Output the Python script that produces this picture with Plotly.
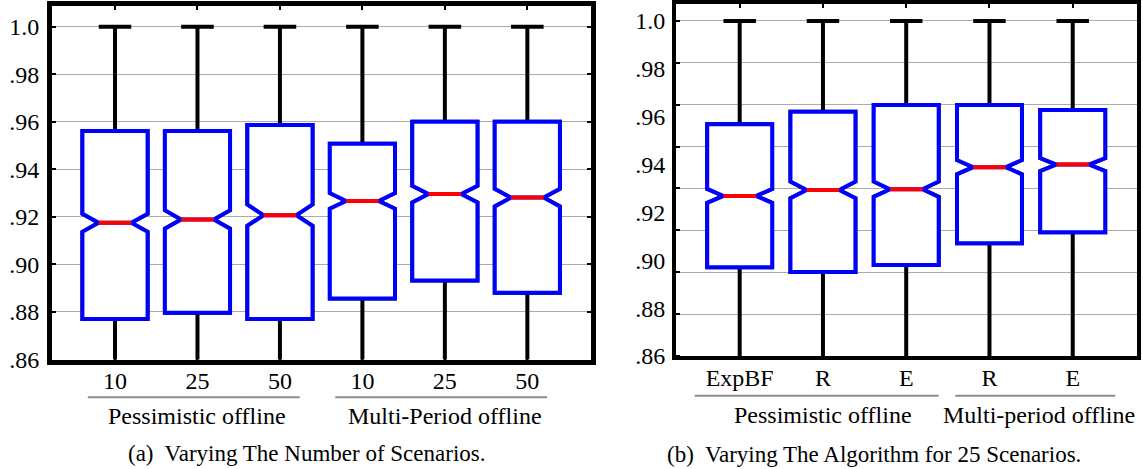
import plotly.graph_objects as go

W, H = 1143, 469
FONT = "Liberation Serif, Times New Roman, serif"

# ---------------- data: panel (a) ----------------
a_ticks = ["10", "25", "50", "10", "25", "50"]
a_group = [0, 0, 0, 1, 1, 1]
a_group_names = ["Pessimistic offline", "Multi-Period offline"]
a_lower = [0.80, 0.80, 0.80, 0.80, 0.80, 0.80]
a_q1 = [0.8770, 0.8797, 0.8770, 0.8857, 0.8932, 0.8881]
a_median = [0.9175, 0.9189, 0.9207, 0.9267, 0.9296, 0.9281]
a_q3 = [0.9561, 0.9561, 0.9586, 0.9508, 0.9600, 0.9600]
a_upper = [1.0, 1.0, 1.0, 1.0, 1.0, 1.0]
a_notch = [0.0038, 0.0039, 0.0045, 0.0033, 0.0035, 0.0037]
a_caption = "(a)  Varying The Number of Scenarios."

# ---------------- data: panel (b) ----------------
b_ticks = ["ExpBF", "R", "E", "R", "E"]
b_group = [0, 0, 0, 1, 1]
b_group_names = ["Pessimistic offline", "Multi-period offline"]
b_lower = [0.80, 0.80, 0.80, 0.80, 0.80]
b_q1 = [0.8971, 0.8951, 0.8980, 0.9071, 0.9117]
b_median = [0.9269, 0.9294, 0.9297, 0.9389, 0.9400]
b_q3 = [0.9568, 0.9621, 0.9649, 0.9649, 0.9628]
b_upper = [1.0, 1.0, 1.0, 1.0, 1.0]
b_notch = [0.0029, 0.0035, 0.0032, 0.0030, 0.0027]
b_caption = "(b)  Varying The Algorithm for 25 Scenarios."

y_tickvals = [0.86, 0.88, 0.90, 0.92, 0.94, 0.96, 0.98, 1.0]
y_ticktext = [".86", ".88", ".90", ".92", ".94", ".96", ".98", "1.0"]
b_minor_grid = [0.86 + 0.0175 * k for k in range(9)]


def px_x(p):
    return p / W


def px_y(p):
    return 1 - p / H


fig = go.Figure()


def add_panel(xa, ya, q1, med, q3, lo, up, notch, bw):
    common = dict(xaxis=xa, yaxis=ya, showlegend=False, boxpoints=False,
                  hoverinfo="skip")
    for i in range(len(q1)):
        # black whiskers
        fig.add_trace(go.Box(x=[i], q1=[q1[i]], median=[med[i]], q3=[q3[i]],
                             lowerfence=[lo[i]], upperfence=[up[i]],
                             notched=True, notchspan=[notch[i]], notchwidth=0.25,
                             whiskerwidth=0.5, width=bw, fillcolor="white",
                             line=dict(color="black", width=4), **common))
    for i in range(len(q1)):
        # blue box
        fig.add_trace(go.Box(x=[i], q1=[q1[i]], median=[med[i]], q3=[q3[i]],
                             lowerfence=[q1[i]], upperfence=[q3[i]],
                             notched=True, notchspan=[notch[i]], notchwidth=0.25,
                             whiskerwidth=0, width=bw, fillcolor="white",
                             line=dict(color="#0000ff", width=4), **common))
    for i in range(len(q1)):
        # red median
        fig.add_trace(go.Box(x=[i], q1=[med[i]], median=[med[i]], q3=[med[i]],
                             lowerfence=[med[i]], upperfence=[med[i]],
                             whiskerwidth=0, width=bw * 0.5, fillcolor="rgba(0,0,0,0)",
                             line=dict(color="#ff0000", width=4), **common))


add_panel("x", "y", a_q1, a_median, a_q3, a_lower, a_upper, a_notch, 0.79)
add_panel("x2", "y2", b_q1, b_median, b_q3, b_lower, b_upper, b_notch, 0.78)

tickfont = dict(family=FONT, size=24, color="black")

fig.update_layout(
    width=W, height=H, margin=dict(l=0, r=0, t=0, b=0, pad=0, autoexpand=False),
    paper_bgcolor="white", plot_bgcolor="white", boxmode="overlay",
    font=dict(family=FONT, color="black"),
    xaxis=dict(domain=[px_x(52), px_x(591)], range=[-0.764, 5.772],
               tickvals=list(range(len(a_ticks))), ticktext=a_ticks,
               showgrid=False, zeroline=False, showline=True, linewidth=5,
               linecolor="black", mirror="ticks", ticks="inside", ticklen=4,
               tickwidth=1.5, tickcolor="black", tickfont=tickfont,
               ticklabelstandoff=-4, automargin=False),
    yaxis=dict(domain=[px_y(359.5), px_y(6)], range=[0.86, 1.0087],
               tickvals=y_tickvals, ticktext=y_ticktext,
               showgrid=True, gridcolor="#ababab", gridwidth=1, zeroline=False,
               showline=True, linewidth=5, linecolor="black", mirror="ticks",
               ticks="inside", ticklen=4, tickwidth=1.5, tickcolor="black",
               tickfont=tickfont, ticklabelstandoff=3, automargin=False),
    xaxis2=dict(domain=[px_x(676), px_x(1137)], range=[-0.765, 4.772],
                anchor="y2",
                tickvals=list(range(len(b_ticks))), ticktext=b_ticks,
                showgrid=False, zeroline=False, showline=True, linewidth=4,
                linecolor="black", mirror="ticks", ticks="inside", ticklen=4,
                tickwidth=1.5, tickcolor="black", tickfont=tickfont,
                ticklabelstandoff=-3, automargin=False),
    yaxis2=dict(domain=[px_y(356), px_y(3.5)], range=[0.86, 1.0073],
                anchor="x2",
                tickvals=y_tickvals, ticktext=y_ticktext, ticks="",
                showgrid=False, zeroline=False,
                showline=True, linewidth=4, linecolor="black", mirror=True,
                minor=dict(tickvals=b_minor_grid, showgrid=True, gridcolor="#ababab",
                           gridwidth=1, ticks="inside", ticklen=4, tickwidth=1.5,
                           tickcolor="black"),
                tickfont=tickfont, ticklabelstandoff=2, automargin=False),
)

labfont = dict(family=FONT, size=24, color="black")
capfont = dict(family=FONT, size=23, color="black")
line_col = "#8c8c8c"

# group labels and underlines, panel (a)
for g, name in enumerate(a_group_names):
    idx = [i for i, gg in enumerate(a_group) if gg == g]
    fig.add_shape(type="line", xref="x", yref="paper",
                  x0=idx[0] - 0.33, x1=idx[-1] + 0.24,
                  y0=px_y(397.3), y1=px_y(397.3),
                  line=dict(color=line_col, width=2))
    fig.add_annotation(text=name, xref="x", yref="paper",
                       x=(idx[0] + idx[-1]) / 2, y=px_y(416), showarrow=False,
                       xanchor="center", yanchor="middle", font=labfont)

b_spans = [(-0.54, 2.39), (2.59, 4.51)]
b_label_x = [1.0, 3.6]
for g, name in enumerate(b_group_names):
    fig.add_shape(type="line", xref="x2", yref="paper",
                  x0=b_spans[g][0], x1=b_spans[g][1],
                  y0=px_y(395.7), y1=px_y(395.7),
                  line=dict(color=line_col, width=2))
    fig.add_annotation(text=name, xref="x2", yref="paper",
                       x=b_label_x[g], y=px_y(415), showarrow=False,
                       xanchor="center", yanchor="middle", font=labfont)

fig.add_annotation(text=a_caption, xref="paper", yref="paper",
                   x=px_x(306), y=px_y(453), showarrow=False,
                   xanchor="center", yanchor="middle", font=capfont)
fig.add_annotation(text=b_caption, xref="paper", yref="paper",
                   x=px_x(874), y=px_y(454), showarrow=False,
                   xanchor="center", yanchor="middle", font=capfont)

fig.write_html(
    "out.html",
    config={"displayModeBar": False},
    post_script=(
        "var d=document.querySelector('.plotly-graph-div');"
        "d.style.position='fixed';d.style.top='0';d.style.left='0';"
        "document.body.style.margin='0';document.body.style.height='469px';"
        "document.body.style.overflow='hidden';"
        "document.documentElement.style.overflow='hidden';"
    ),
)
